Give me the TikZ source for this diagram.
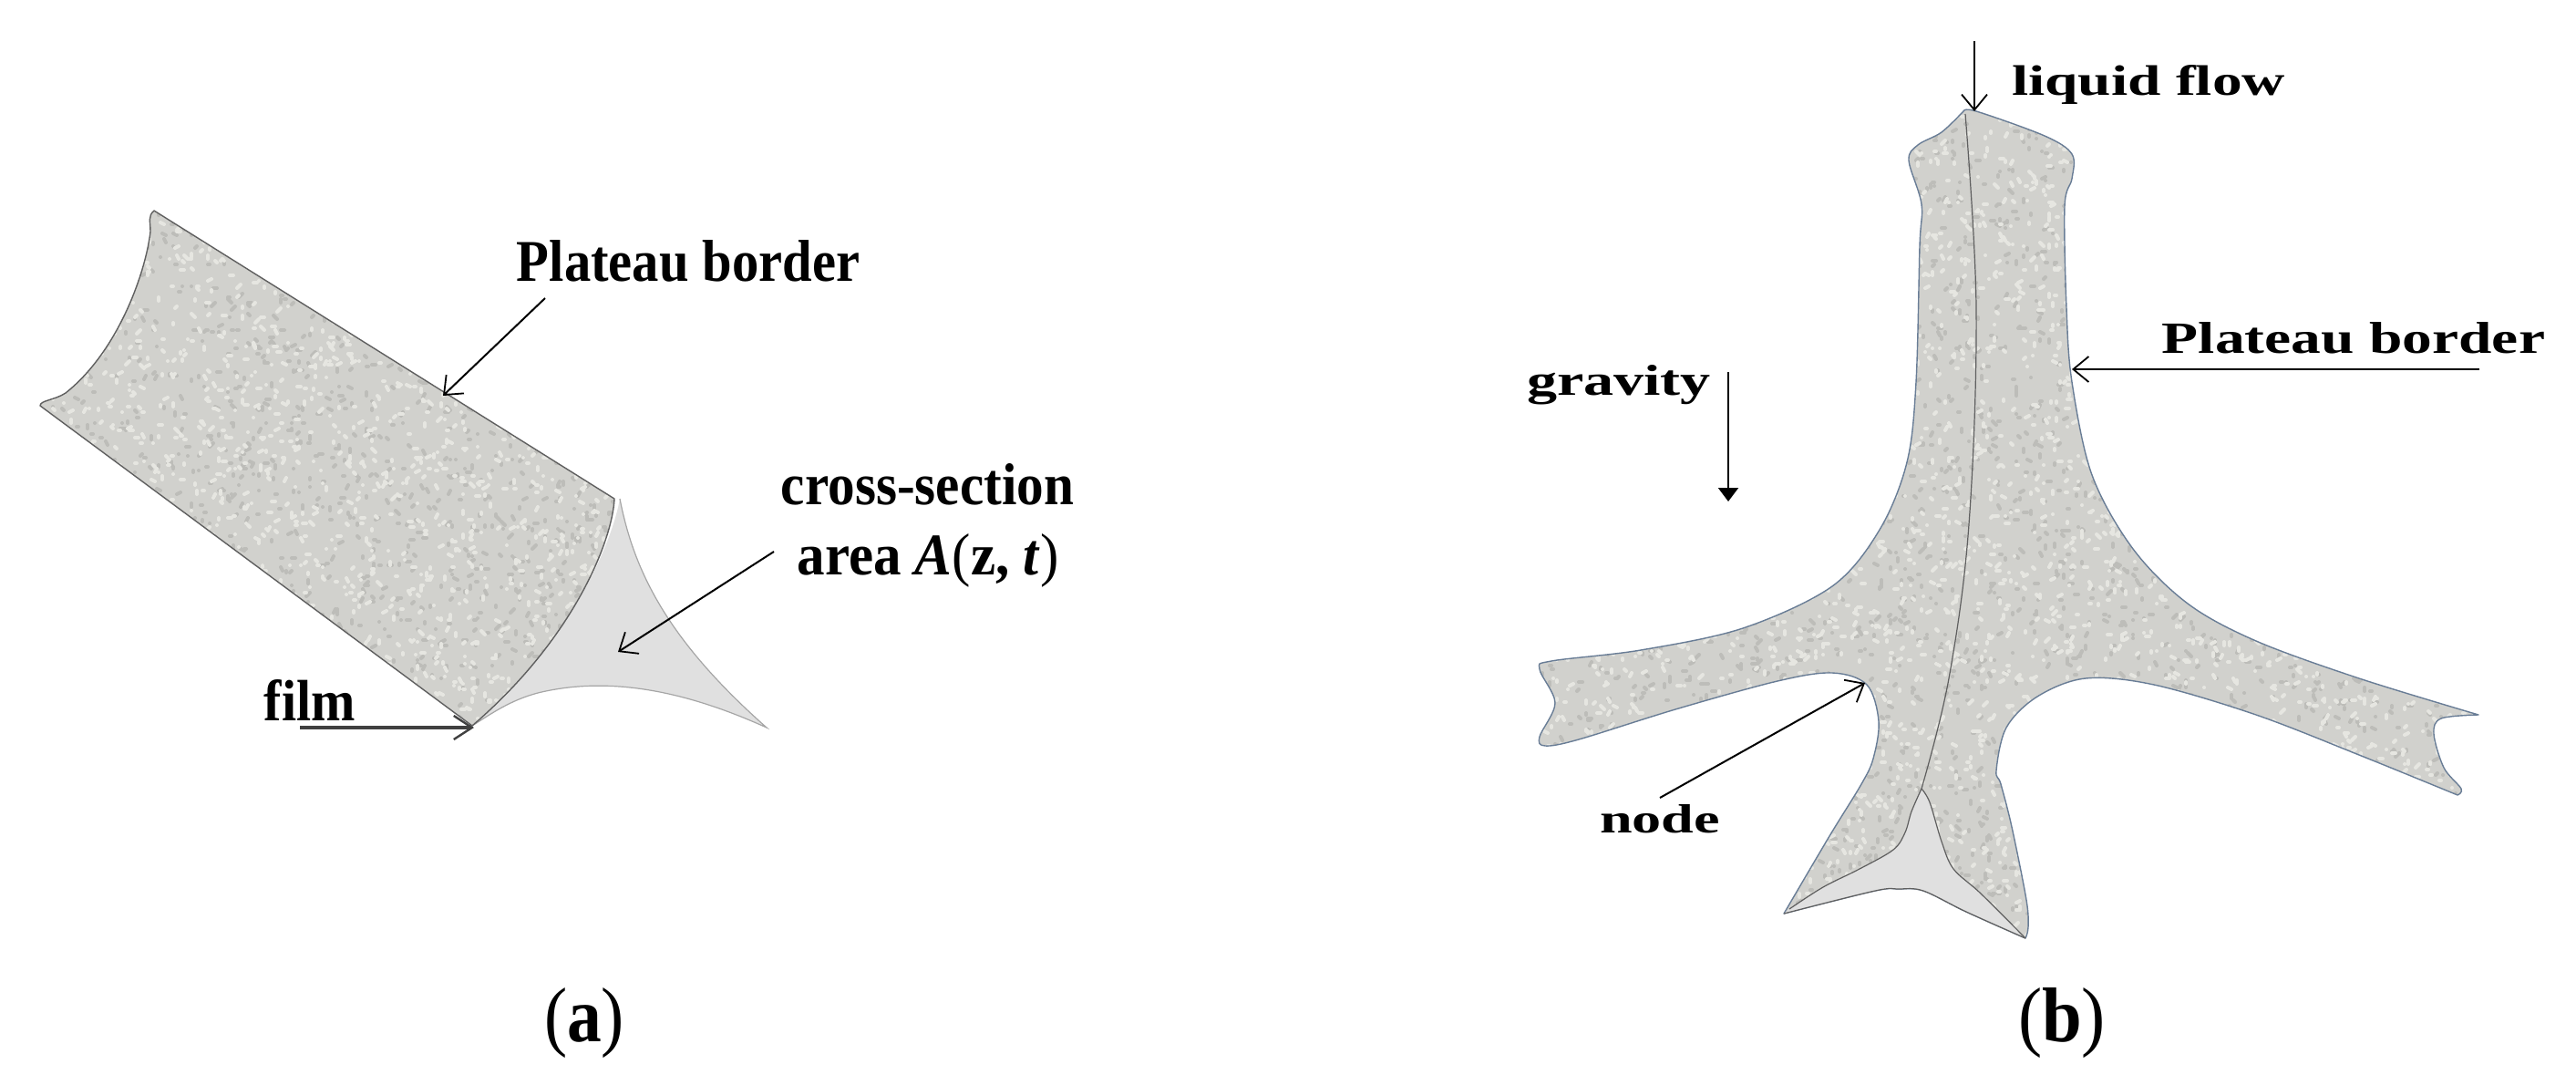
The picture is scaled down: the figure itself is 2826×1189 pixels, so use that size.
\documentclass[tikz,border=0pt]{standalone}
\usepackage{fontspec}
\setmainfont{Liberation Serif}
\usetikzlibrary{arrows.meta}
\definecolor{foam}{RGB}{209,209,205}
\definecolor{foamlight}{RGB}{230,230,225}
\definecolor{foamdark}{RGB}{189,189,185}
\definecolor{sect}{RGB}{224,224,224}
\definecolor{edgeA}{RGB}{95,95,95}
\definecolor{edgeB}{RGB}{105,125,150}
\newcommand{\fitlabel}[3]{\resizebox{#1pt}{#2pt}{#3}}
% scatter short round strokes: x0 y0 w h count colour
\newcommand{\specks}[6]{%
  \pgfsetstrokecolor{#6}\pgfsetroundcap\pgfsetlinewidth{2pt}%
  \foreach \i in {1,...,#5}{%
    \pgfmathsetmacro\xa{int(0.5*(#1+rnd*#3))}\pgfmathsetmacro\ya{int(-0.5*(#2+rnd*#4))}%
    \pgfmathsetmacro\xb{\xa+int(rnd*5-2.5)}\pgfmathsetmacro\yb{\ya+int(rnd*5-2.5)}%
    \pgfpathmoveto{\pgfqpoint{\xa pt}{\ya pt}}\pgfpathlineto{\pgfqpoint{\xb pt}{\yb pt}}\pgfusepath{stroke}}}
\tikzset{
  outlineA/.style={draw=edgeA,line width=0.7pt,line join=round},
  outlineB/.style={draw=edgeB,line width=0.7pt,line join=round},
  innerline/.style={draw=edgeA,line width=0.6pt},
  arrowline/.style={draw=black,line width=1.0pt,-{Straight Barb[length=8.5pt,width=14pt,line width=0.9pt]}},
  thickarrow/.style={draw=black!75,line width=2.3pt,-{Straight Barb[length=10pt,width=13pt,line width=1.2pt]}},
  solidarrow/.style={draw=black,line width=1.0pt,-{Triangle[length=7.5pt,width=11pt]}},
  lbl/.style={inner sep=0pt,outer sep=0pt,anchor=base,font=\bfseries}
}
\def\leftbody{(169,231) -- (674,547)
  .. controls (672,592) and (630,700) .. (518,796)
  -- (44,445) .. controls (44,439) and (60,439) .. (72,431)
  .. controls (130,385) and (160,298) .. (165,254)
  .. controls (165,243) and (162,237) .. (169,231) -- cycle}
\def\rightbody{plot[smooth,tension=.55] coordinates {(2154,122) (2168,122) (2243,149) (2273,169) (2273,196) (2265,226) (2267,338) (2273,419) (2295,521) (2340,602) (2400,662) (2475,703) (2588,744) (2719,784)}
  -- plot[smooth,tension=.55] coordinates {(2719,784) (2678,788) (2670,805) (2681,842) (2700,865) (2696,872)}
  -- plot[smooth,tension=.55] coordinates {(2696,872) (2588,828) (2475,784) (2363,751) (2288,744) (2235,764) (2201,798) (2190,845) (2195,860) (2207,907) (2223,987) (2225,1017) (2222,1029)}
  -- plot[smooth,tension=.55] coordinates {(2222,1029) (2157,1000) (2110,977) (2083,975) (2057,977) (1957,1002)}
  -- plot[smooth,tension=.55] coordinates {(1957,1002) (2007,917) (2042,860) (2055,832) (2061,791) (2048,751) (2010,738) (1950,747) (1838,778) (1732,811) (1695,818) (1689,808) (1706,771) (1689,734) (1702,725) (1800,713) (1912,689) (2010,643) (2062,581) (2092,507) (2102,419) (2106,270) (2108,224) (2094,176) (2104,159) (2130,145) (2154,122)} -- cycle}
\begin{document}
\begin{tikzpicture}[x=0.5pt,y=-0.5pt]
\useasboundingbox (0,0) rectangle (2826,1189);
\pgfmathsetseed{4711}
% (a)
\fill[sect] (680,547) .. controls (695,624) and (730,700) .. (841,798)
  .. controls (770,766) and (680,738) .. (590,760)
  .. controls (560,768) and (540,782) .. (518,796)
  .. controls (630,700) and (672,592) .. (680,547) -- cycle;
\draw[draw=gray!70,line width=0.6pt] (680,547) .. controls (695,624) and (730,700) .. (841,798)
  .. controls (770,766) and (680,738) .. (590,760)
  .. controls (560,768) and (540,782) .. (518,796);
\fill[foam] \leftbody;
\begin{scope}
\clip \leftbody;
\specks{44}{231}{636}{565}{1300}{foamdark}
\specks{44}{231}{636}{565}{1700}{foamlight}
\end{scope}
\draw[outlineA] \leftbody;
% (b)
\fill[foam] \rightbody;
\begin{scope}
\clip \rightbody;
\specks{1689}{122}{1030}{907}{3200}{foamdark}
\specks{1689}{122}{1030}{907}{4300}{foamlight}
\end{scope}
\draw[outlineB] \rightbody;
\fill[sect] plot[smooth,tension=.55] coordinates {(2108,865) (2097,890) (2090,913) (2077,932) (2040,953) (2000,973) (1963,997)}
  -- (1957,1002)
  -- plot[smooth,tension=.55] coordinates {(1957,1002) (2057,977) (2083,975) (2110,977) (2157,1000) (2222,1029)}
  -- plot[smooth,tension=.55] coordinates {(2222,1029) (2173,980) (2143,953) (2130,923) (2117,880) (2108,865)} -- cycle;
\draw[innerline] plot[smooth,tension=.55] coordinates {(1963,997) (2000,973) (2040,953) (2077,932) (2090,913) (2097,890) (2108,865)};
\draw[innerline] plot[smooth,tension=.55] coordinates {(2108,865) (2117,880) (2130,923) (2143,953) (2173,980) (2222,1029)};
\draw[innerline] plot[smooth,tension=.55] coordinates {(1957,1002) (2057,977) (2083,975) (2110,977) (2157,1000) (2222,1029)};
\draw[innerline] plot[smooth,tension=.6] coordinates {(2156,125) (2168,338) (2160,575) (2138,744) (2108,865)};
% labels
\node[lbl] (pbA) at (755,308) {\fitlabel{188}{22.5}{Plateau border}};
\node[lbl] (film) at (340,790) {\fitlabel{50}{22.5}{film}};
\node[lbl] (csA) at (1017.5,553) {\fitlabel{160.5}{22.5}{cross-section}};
\node[lbl] (areaA) at (1018,630) {\fitlabel{143.5}{22.5}{area \textit{A}{\mdseries(}z, \textit{t}{\mdseries)}}};
\node[lbl] (capa) at (641,1142) {\fitlabel{44}{29.5}{\mdseries(\textbf{a})}};
\node[lbl] (capb) at (2262,1142) {\fitlabel{48}{29.5}{\mdseries(\textbf{b})}};
\node[lbl] (lf) at (2357,104) {\fitlabel{150}{16.5}{liquid flow}};
\node[lbl] (pbB) at (2582,387) {\fitlabel{210}{17}{Plateau border}};
\node[lbl] (grav) at (1776,433) {\fitlabel{101}{16.5}{gravity}};
\node[lbl] (nodeL) at (1821,913) {\fitlabel{66}{15.5}{node}};
% connectors
\coordinate (a1s) at (598,327); \coordinate (a1e) at (486,434);
\coordinate (a2s) at (849,605); \coordinate (a2e) at (678,715);
\coordinate (a3s) at (329,798); \coordinate (a3e) at (520,798);
\coordinate (b1s) at (2166,45); \coordinate (b1e) at (2166,122);
\coordinate (b2s) at (2720,405); \coordinate (b2e) at (2273,405);
\coordinate (b3s) at (1896,408); \coordinate (b3e) at (1896,550);
\coordinate (b4s) at (1821,875); \coordinate (b4e) at (2046,749);
\draw[arrowline] (a1s) -- (a1e);
\draw[arrowline] (a2s) -- (a2e);
\draw[thickarrow] (a3s) -- (a3e);
\draw[arrowline] (b1s) -- (b1e);
\draw[arrowline] (b2s) -- (b2e);
\draw[solidarrow] (b3s) -- (b3e);
\draw[arrowline] (b4s) -- (b4e);
\end{tikzpicture}
\end{document}
